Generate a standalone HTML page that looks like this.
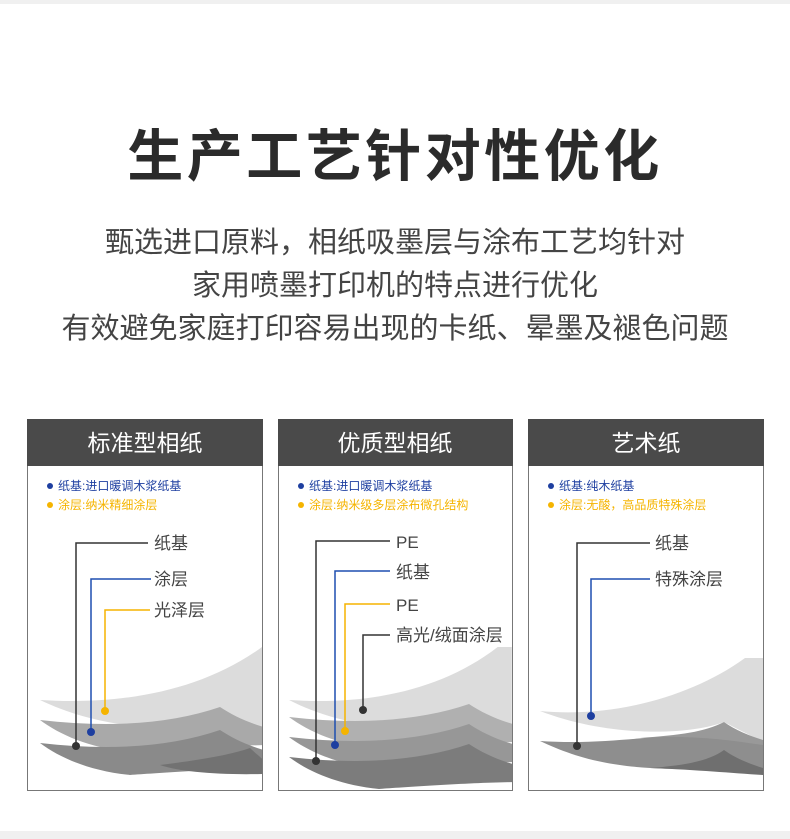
<!DOCTYPE html>
<html><head><meta charset="utf-8"><style>
html,body{margin:0;padding:0;background:#fff}
body{width:790px;height:839px;position:relative;overflow:hidden;font-family:"Liberation Sans","Noto Sans CJK SC",sans-serif}
.t{position:absolute;white-space:nowrap}
</style></head><body>
<div style="position:absolute;left:0;top:0;width:790px;height:4px;background:#f0f0f0"></div>
<div style="position:absolute;left:0;top:831px;width:790px;height:8px;background:#f0f0f0"></div>
<div class="t" style="left:0;width:790px;top:122px;text-align:center;font-size:56px;font-weight:bold;color:#2b2b2b;letter-spacing:3.5px;line-height:70px">生产工艺针对性优化</div>
<div class="t" style="left:0;width:790px;top:222px;text-align:center;font-size:29px;color:#444;line-height:43px">甄选进口原料，相纸吸墨层与涂布工艺均针对<br>家用喷墨打印机的特点进行优化<br>有效避免家庭打印容易出现的卡纸、晕墨及褪色问题</div>
<svg width="790" height="839" style="position:absolute;left:0;top:0" xmlns="http://www.w3.org/2000/svg" font-family="Liberation Sans, Noto Sans CJK SC, sans-serif">
<defs>
<path id="light" d="M0,53 C80,58 160,45 222,0 L237,0 L237,95 L185,73 C140,88 60,82 0,53Z"/>
<path id="sheet" d="M0,0 C70,8 130,4 180,-13 C195,-3 215,6 237,10 L237,25 C190,25 120,30 90,32 C50,28 20,15 0,0Z"/>
<clipPath id="c1"><rect x="28" y="466" width="234" height="324"/></clipPath>
<clipPath id="c2"><rect x="279" y="466" width="233" height="324"/></clipPath>
<clipPath id="c3"><rect x="529" y="466" width="234" height="324"/></clipPath>
</defs>
<!-- card 1 -->
<g>
<rect x="27.5" y="419.5" width="235" height="371" fill="#fff" stroke="#777"/>
<rect x="27" y="419" width="236" height="47" fill="#4a4a4a"/>
<text x="145" y="451" text-anchor="middle" font-size="23" fill="#fff">标准型相纸</text>
<circle cx="50" cy="486" r="3" fill="#1e3fa0"/><text x="58" y="490" font-size="12" fill="#1e3fa0">纸基:进口暖调木浆纸基</text>
<circle cx="50" cy="505" r="3" fill="#f5b400"/><text x="58" y="509" font-size="12" fill="#f5b400">涂层:纳米精细涂层</text>
<g clip-path="url(#c1)">
<g transform="translate(40,647)"><use href="#light" fill="#dcdcdc"/></g>
<g transform="translate(40,720)"><use href="#sheet" fill="#a9a9a9"/></g>
<g transform="translate(40,743)"><use href="#sheet" fill="#8a8a8a"/></g>
<g transform="translate(60,760)"><path d="M100,5 C140,0 170,-5 190,-12 C200,-2 210,2 202,8 L202,14 C160,15 120,12 100,5Z" fill="#727272"/></g>
</g>
<polyline points="148,543 76,543 76,746" fill="none" stroke="#333" stroke-width="1.5"/><circle cx="76" cy="746" r="4" fill="#333"/>
<polyline points="151,579 91,579 91,732" fill="none" stroke="#1e4fb0" stroke-width="1.5"/><circle cx="91" cy="732" r="4" fill="#1e3fa0"/>
<polyline points="150,610 105,610 105,711" fill="none" stroke="#f5b400" stroke-width="1.5"/><circle cx="105" cy="711" r="4" fill="#f5b400"/>
<text x="154" y="549" font-size="17" fill="#444">纸基</text>
<text x="154" y="585" font-size="17" fill="#444">涂层</text>
<text x="154" y="616" font-size="17" fill="#444">光泽层</text>
</g>
<!-- card 2 -->
<g>
<rect x="278.5" y="419.5" width="234" height="371" fill="#fff" stroke="#777"/>
<rect x="278" y="419" width="235" height="47" fill="#4a4a4a"/>
<text x="395" y="451" text-anchor="middle" font-size="23" fill="#fff">优质型相纸</text>
<circle cx="301" cy="486" r="3" fill="#1e3fa0"/><text x="309" y="490" font-size="12" fill="#1e3fa0">纸基:进口暖调木浆纸基</text>
<circle cx="301" cy="505" r="3" fill="#f5b400"/><text x="309" y="509" font-size="12" fill="#f5b400">涂层:纳米级多层涂布微孔结构</text>
<g clip-path="url(#c2)">
<g transform="translate(289,647) scale(0.94,1)"><use href="#light" fill="#dcdcdc"/></g>
<g transform="translate(289,717)"><use href="#sheet" fill="#b0b0b0"/></g>
<g transform="translate(289,737)"><use href="#sheet" fill="#979797"/></g>
<g transform="translate(289,757)"><use href="#sheet" fill="#7c7c7c"/></g>
</g>
<polyline points="390,541 316,541 316,761" fill="none" stroke="#333" stroke-width="1.5"/><circle cx="316" cy="761" r="4" fill="#333"/>
<polyline points="390,571 335,571 335,745" fill="none" stroke="#1e4fb0" stroke-width="1.5"/><circle cx="335" cy="745" r="4" fill="#1e3fa0"/>
<polyline points="390,604 345,604 345,731" fill="none" stroke="#f5b400" stroke-width="1.5"/><circle cx="345" cy="731" r="4" fill="#f5b400"/>
<polyline points="390,635 363,635 363,710" fill="none" stroke="#333" stroke-width="1.5"/><circle cx="363" cy="710" r="4" fill="#333"/>
<text x="396" y="548" font-size="17" fill="#444">PE</text>
<text x="396" y="578" font-size="17" fill="#444">纸基</text>
<text x="396" y="611" font-size="17" fill="#444">PE</text>
<text x="396" y="641" font-size="17" fill="#444">高光/绒面涂层</text>
</g>
<!-- card 3 -->
<g>
<rect x="528.5" y="419.5" width="235" height="371" fill="#fff" stroke="#777"/>
<rect x="528" y="419" width="236" height="47" fill="#4a4a4a"/>
<text x="646" y="451" text-anchor="middle" font-size="23" fill="#fff">艺术纸</text>
<circle cx="551" cy="486" r="3" fill="#1e3fa0"/><text x="559" y="490" font-size="12" fill="#1e3fa0">纸基:纯木纸基</text>
<circle cx="551" cy="505" r="3" fill="#f5b400"/><text x="559" y="509" font-size="12" fill="#f5b400">涂层:无酸，高品质特殊涂层</text>
<g clip-path="url(#c3)">
<path d="M540,711 C610,718 690,698 745,658 L763,658 L763,742 C750,735 735,728 724,722 C690,735 610,738 540,711Z" fill="#dcdcdc"/>
<path d="M724,722 C735,730 750,736 763,740 L763,750 C720,745 680,740 640,738 C680,735 705,732 724,722Z" fill="#999"/>
<path d="M540,741 C600,745 640,736 680,737 C720,738 740,742 763,745 L763,768 C720,768 680,770 650,768 C600,765 570,755 540,741Z" fill="#8e8e8e"/>
<path d="M724,750 C735,758 750,764 763,768 L763,775 C730,773 700,770 650,768 C690,765 710,760 724,750Z" fill="#6f6f6f"/>
</g>
<polyline points="650,543 577,543 577,746" fill="none" stroke="#333" stroke-width="1.5"/><circle cx="577" cy="746" r="4" fill="#333"/>
<polyline points="650,579 591,579 591,716" fill="none" stroke="#1e4fb0" stroke-width="1.5"/><circle cx="591" cy="716" r="4" fill="#1e3fa0"/>
<text x="655" y="549" font-size="17" fill="#444">纸基</text>
<text x="655" y="585" font-size="17" fill="#444">特殊涂层</text>
</g>
</svg>
</body></html>
